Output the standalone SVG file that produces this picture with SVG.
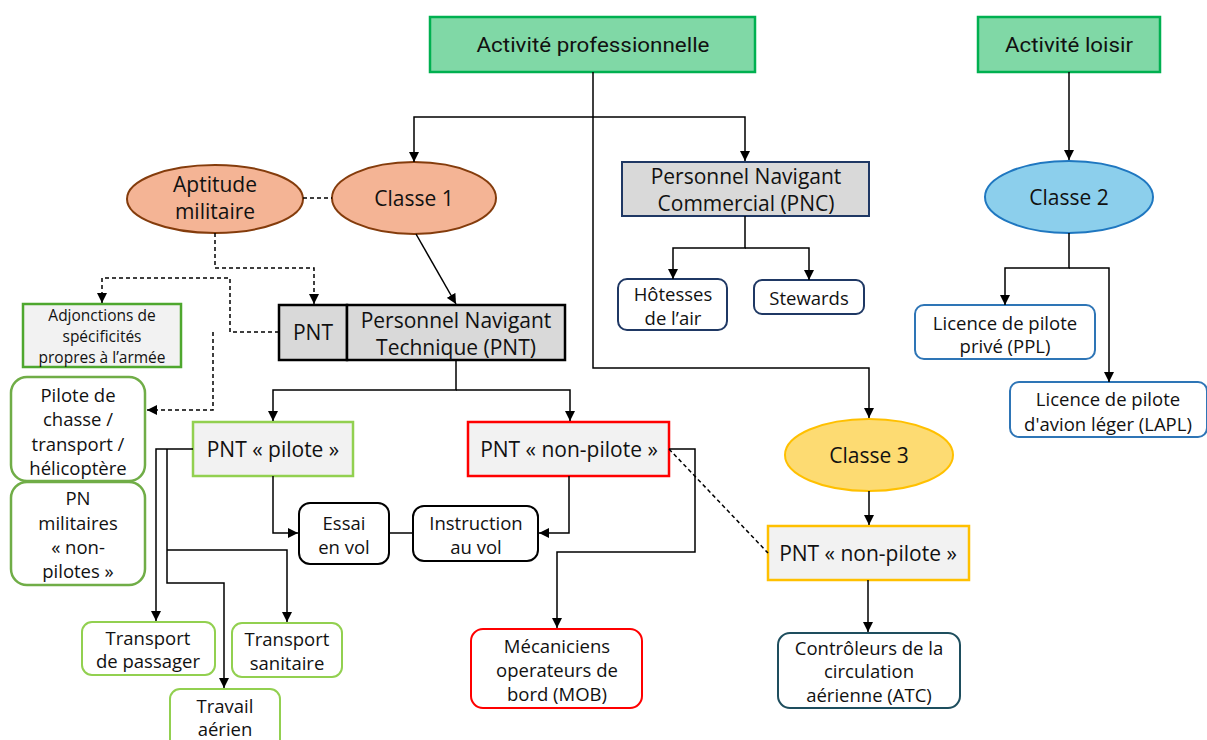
<svg xmlns="http://www.w3.org/2000/svg" width="1207" height="740" viewBox="0 0 1207 740">
  <defs>
    <marker id="arrow" markerUnits="userSpaceOnUse" markerWidth="10" markerHeight="10" refX="10" refY="5" orient="auto">
      <path d="M0,0 L10,5 L0,10 z" fill="#000"/>
    </marker>
    <style>
      text { font-family: "Open Sans", "Noto Sans", sans-serif; fill: #111; text-anchor: middle; dominant-baseline: central; }
      .big { font-size: 21px; }
      .mid { font-size: 18.5px; }
      .small { font-size: 15.5px; }
      .narrow { font-family: "Liberation Sans Narrow", "Roboto", "Liberation Sans", sans-serif; font-size: 21px; }
      .act { fill: #80d8a6; stroke: #00b050; stroke-width: 2.5; }
      .orange { fill: #f4b495; stroke: #843c0c; stroke-width: 2; }
      .blue { fill: #8ccfec; stroke: #1f77c0; stroke-width: 2; }
      .yellow { fill: #fddb72; stroke: #ffc000; stroke-width: 2; }
      .pnc { fill: #d9d9d9; stroke: #1f3864; stroke-width: 2; }
      .navy { fill: #fff; stroke: #1f3864; stroke-width: 2; }
      .lblue { fill: #fff; stroke: #2e75b6; stroke-width: 2; }
      .pnt { fill: #d9d9d9; stroke: #000; stroke-width: 2.5; }
      .adj { fill: #f2f2f2; stroke: #4ea72e; stroke-width: 2.5; }
      .mil { fill: #fff; stroke: #70ad47; stroke-width: 2.5; }
      .pil { fill: #f2f2f2; stroke: #92d050; stroke-width: 2.5; }
      .npil { fill: #f2f2f2; stroke: #ff0000; stroke-width: 2.5; }
      .npil3 { fill: #f2f2f2; stroke: #ffc000; stroke-width: 2.5; }
      .black { fill: #fff; stroke: #000; stroke-width: 2; }
      .lgreen { fill: #fff; stroke: #92d050; stroke-width: 2; }
      .red { fill: #fff; stroke: #ff0000; stroke-width: 2; }
      .teal { fill: #fff; stroke: #1e4e5e; stroke-width: 2; }
      .edge { fill: none; stroke: #000; stroke-width: 1.5; }
      .dash { fill: none; stroke: #000; stroke-width: 1.5; stroke-dasharray: 4 3; }
    </style>
  </defs>

  <rect width="1207" height="740" fill="#fff"/>

  <!-- top level activities -->
  <g id="activite-pro">
    <rect class="act" x="430" y="17" width="325" height="55"/>
    <text class="narrow" x="593" y="45" textLength="233" lengthAdjust="spacingAndGlyphs">Activité professionnelle</text>
  </g>
  <g id="activite-loisir">
    <rect class="act" x="978" y="17" width="182" height="55"/>
    <text class="narrow" x="1069" y="45" textLength="128" lengthAdjust="spacingAndGlyphs">Activité loisir</text>
  </g>

  <!-- medical classes -->
  <g id="aptitude-militaire">
    <ellipse class="orange" cx="215" cy="199" rx="88" ry="34"/>
    <text class="big" x="215" y="184">Aptitude</text>
    <text class="big" x="215" y="211">militaire</text>
  </g>
  <g id="classe-1">
    <ellipse class="orange" cx="414" cy="198" rx="82" ry="36"/>
    <text class="big" x="414" y="198">Classe 1</text>
  </g>
  <g id="classe-2">
    <ellipse class="blue" cx="1069" cy="197" rx="84" ry="36"/>
    <text class="big" x="1069" y="197">Classe 2</text>
  </g>
  <g id="classe-3">
    <ellipse class="yellow" cx="869" cy="455" rx="84" ry="36"/>
    <text class="big" x="869" y="455">Classe 3</text>
  </g>

  <!-- cabin crew -->
  <g id="pnc">
    <rect class="pnc" x="622" y="162" width="247" height="54"/>
    <text class="big" x="746" y="176">Personnel Navigant</text>
    <text class="big" x="746" y="203">Commercial (PNC)</text>
  </g>
  <g id="hotesses">
    <rect class="navy" x="618" y="279" width="109" height="51" rx="9"/>
    <text class="mid" x="673" y="293">Hôtesses</text>
    <text class="mid" x="673" y="317">de l’air</text>
  </g>
  <g id="stewards">
    <rect class="navy" x="754" y="280" width="110" height="34" rx="8"/>
    <text class="mid" x="809" y="297">Stewards</text>
  </g>

  <!-- leisure licences -->
  <g id="ppl">
    <rect class="lblue" x="915" y="305" width="180" height="54" rx="9"/>
    <text class="mid" x="1005" y="322">Licence de pilote</text>
    <text class="mid" x="1005" y="345">privé (PPL)</text>
  </g>
  <g id="lapl">
    <rect class="lblue" x="1010" y="382" width="197" height="55" rx="9"/>
    <text class="mid" x="1108" y="398">Licence de pilote</text>
    <text class="mid" x="1108" y="423">d'avion léger (LAPL)</text>
  </g>

  <!-- technical crew -->
  <g id="pnt-court">
    <rect class="pnt" x="279" y="305" width="68" height="55"/>
    <text class="big" x="313" y="332">PNT</text>
  </g>
  <g id="pnt">
    <rect class="pnt" x="347" y="305" width="218" height="55"/>
    <text class="big" x="456" y="320">Personnel Navigant</text>
    <text class="big" x="456" y="347">Technique (PNT)</text>
  </g>
  <g id="adjonctions">
    <rect class="adj" x="23" y="304" width="158" height="63"/>
    <text class="small" x="102" y="315">Adjonctions de</text>
    <text class="small" x="102" y="336">spécificités</text>
    <text class="small" x="102" y="357">propres à l’armée</text>
  </g>
  <g id="pilote-chasse">
    <rect class="mil" x="11" y="377" width="134" height="104" rx="16"/>
    <text class="mid" x="78" y="394">Pilote de</text>
    <text class="mid" x="78" y="418">chasse /</text>
    <text class="mid" x="78" y="443">transport /</text>
    <text class="mid" x="78" y="467">hélicoptère</text>
  </g>
  <g id="pn-militaires">
    <rect class="mil" x="11" y="482" width="134" height="103" rx="16"/>
    <text class="mid" x="78" y="497">PN</text>
    <text class="mid" x="78" y="522">militaires</text>
    <text class="mid" x="78" y="546">« non-</text>
    <text class="mid" x="78" y="570">pilotes »</text>
  </g>
  <g id="pnt-pilote">
    <rect class="pil" x="193" y="422" width="160" height="54"/>
    <text class="big" x="273" y="449">PNT « pilote »</text>
  </g>
  <g id="pnt-non-pilote">
    <rect class="npil" x="468" y="422" width="201" height="54"/>
    <text class="big" x="569" y="449">PNT « non-pilote »</text>
  </g>
  <g id="pnt-non-pilote-3">
    <rect class="npil3" x="768" y="526" width="201" height="54"/>
    <text class="big" x="868" y="553">PNT « non-pilote »</text>
  </g>
  <g id="essai">
    <rect class="black" x="299" y="503" width="90" height="61" rx="11"/>
    <text class="mid" x="344" y="522">Essai</text>
    <text class="mid" x="344" y="546">en vol</text>
  </g>
  <g id="instruction">
    <rect class="black" x="413" y="506" width="125" height="55" rx="11"/>
    <text class="mid" x="476" y="522">Instruction</text>
    <text class="mid" x="476" y="546">au vol</text>
  </g>
  <g id="transport-passager">
    <rect class="lgreen" x="82" y="622" width="133" height="53" rx="10"/>
    <text class="mid" x="148" y="637">Transport</text>
    <text class="mid" x="148" y="660">de passager</text>
  </g>
  <g id="transport-sanitaire">
    <rect class="lgreen" x="232" y="623" width="110" height="54" rx="10"/>
    <text class="mid" x="287" y="638">Transport</text>
    <text class="mid" x="287" y="662">sanitaire</text>
  </g>
  <g id="travail-aerien">
    <rect class="lgreen" x="170" y="689" width="110" height="60" rx="10"/>
    <text class="mid" x="225" y="705">Travail</text>
    <text class="mid" x="225" y="728">aérien</text>
  </g>
  <g id="mob">
    <rect class="red" x="471" y="629" width="171" height="79" rx="12"/>
    <text class="mid" x="557" y="645">Mécaniciens</text>
    <text class="mid" x="557" y="669">operateurs de</text>
    <text class="mid" x="557" y="693">bord (MOB)</text>
  </g>
  <g id="atc">
    <rect class="teal" x="778" y="633" width="182" height="75" rx="12"/>
    <text class="mid" x="869" y="647">Contrôleurs de la</text>
    <text class="mid" x="869" y="670">circulation</text>
    <text class="mid" x="869" y="694">aérienne (ATC)</text>
  </g>

  <!-- connectors -->
  <g id="connectors">
    <path class="edge" d="M593,72 V368 H869 V418" marker-end="url(#arrow)"/>
    <path class="edge" d="M593,117 H414 V162" marker-end="url(#arrow)"/>
    <path class="edge" d="M593,117 H745 V161" marker-end="url(#arrow)"/>
    <path class="edge" d="M745,216 V248 H673 V279" marker-end="url(#arrow)" stroke="#444"/>
    <path class="edge" d="M745,248 H809 V280" marker-end="url(#arrow)"/>
    <path class="edge" d="M1069,72 V160" marker-end="url(#arrow)"/>
    <path class="edge" d="M1069,233 V268 H1005 V305" marker-end="url(#arrow)"/>
    <path class="edge" d="M1069,268 H1109 V382" marker-end="url(#arrow)"/>
    <path class="dash" d="M303,198 H332"/>
    <path class="edge" d="M416,234 L456,304" marker-end="url(#arrow)"/>
    <path class="dash" d="M215,233 V268 H314 V304" marker-end="url(#arrow)"/>
    <path class="dash" d="M279,332 H230 V278 H102 V303" marker-end="url(#arrow)"/>
    <path class="dash" d="M213,332 V410 H147" marker-end="url(#arrow)"/>
    <path class="edge" d="M456,360 V390 H273 V421" marker-end="url(#arrow)"/>
    <path class="edge" d="M456,390 H570 V421" marker-end="url(#arrow)"/>
    <path class="edge" d="M193,449 H156 V621" marker-end="url(#arrow)"/>
    <path class="edge" d="M167,449 V583 H224 V688" marker-end="url(#arrow)"/>
    <path class="edge" d="M167,550 H287 V622" marker-end="url(#arrow)"/>
    <path class="edge" d="M273,476 V533 H298" marker-end="url(#arrow)"/>
    <path class="edge" d="M389,533 H413"/>
    <path class="edge" d="M569,476 V533 H539" marker-end="url(#arrow)"/>
    <path class="edge" d="M669,449 H695 V552 H557 V628" marker-end="url(#arrow)"/>
    <path class="dash" d="M669,449 L768,553"/>
    <path class="edge" d="M869,491 V525" marker-end="url(#arrow)"/>
    <path class="edge" d="M868,580 V632" marker-end="url(#arrow)"/>
  </g>
</svg>
